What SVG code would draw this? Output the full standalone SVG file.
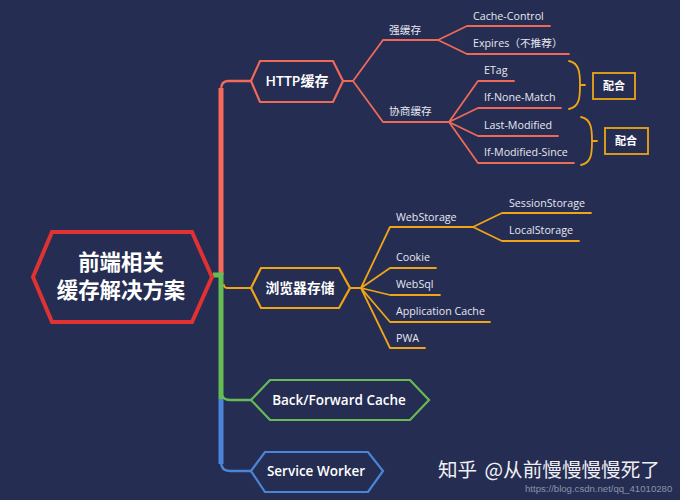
<svg xmlns="http://www.w3.org/2000/svg" width="680" height="500" viewBox="0 0 680 500">
<style>
text{font-family:"Open Sans","Noto Sans CJK SC",sans-serif;fill:#e6e8f0}
.cjk{font-family:"Noto Sans CJK SC","Open Sans",sans-serif}
.leaf{font-size:10.7px}
.b{font-weight:600;fill:#fff}
.k{font-weight:700;fill:#fff}
.m{text-anchor:middle}
.hex{fill:#252d52}
.c{fill:none;stroke-linejoin:round;stroke-linecap:round}
.red{stroke:#ee6a58;stroke-width:1.8}
.org{stroke:#efa515;stroke-width:1.8}
</style>
<rect width="680" height="500" fill="#252d52"/>
<g id="connectors">
<path class="c" d="M221 90Q221 81 228 81H251" stroke="#f56a5a" stroke-width="2.4"/>
<path d="M221 275V88" fill="none" stroke="#f56a5a" stroke-width="5"/>
<path d="M213 275H221V399" fill="none" stroke="#66bb55" stroke-width="5"/>
<path class="c" d="M221 390Q221 400 230 400H251" stroke="#66bb55" stroke-width="2.4"/>
<path d="M221 399V464" fill="none" stroke="#4a86d8" stroke-width="5"/>
<path class="c" d="M221 462Q221 471 230 471H251" stroke="#4a86d8" stroke-width="2.4"/>
<path class="c" d="M224 285Q224 288 228 288H251" stroke="#efa515" stroke-width="1.8"/>
<g class="c red">
<path d="M343 81H353L383 40H438M353 81L383 122H449"/>
<path d="M438 40L467 26H550M438 40L467 54H569"/>
<path d="M449 122L478 81H514M449 122L478 108H561M449 122L478 136H558M449 122L478 163H574"/>
</g>
<g class="c org">
<path d="M350 288H361L390 227H473M361 288L390 268H436M361 288L390 295H440M361 288L390 322H490M361 288L390 348H425"/>
<path d="M473 227L502 213H591M473 227L502 241H579"/>
</g>
<g class="c" stroke="#efa515" stroke-width="1.8">
<path d="M569 61C580 63 580 75 580 85H585M580 85C580 96 580 107 569 109"/>
<path d="M581 117C592 119 592 131 592 141H597M592 141C592 152 592 163 581 165"/>
</g>
</g>
<g id="root">
<path class="hex" d="M33 277L52 232H192L212 277L192 322H52Z" stroke="#e03232" stroke-width="4"/>
<text class="cjk k m" x="121" y="270" font-size="21.4">前端相关</text>
<text class="cjk k m" x="121" y="298" font-size="21.4">缓存解决方案</text>
</g>
<g id="http">
<path class="hex" d="M251 81L260 61H333L343 81L333 102H260Z" stroke="#ee6a58" stroke-width="2.2"/>
<text class="b m" x="297" y="86" font-size="14">HTTP<tspan class="cjk">缓存</tspan></text>
</g>
<g id="browser">
<path class="hex" d="M251 288L261 268H339L350 288L339 308H261Z" stroke="#efa515" stroke-width="2.2"/>
<text class="cjk k m" x="300" y="293" font-size="13.8">浏览器存储</text>
</g>
<g id="bfcache">
<path class="hex" d="M251 400L270 380H410L429 400L410 420H270Z" stroke="#66bb55" stroke-width="2.2"/>
<text class="b m" x="339" y="404.500" font-size="13.500">Back/Forward Cache</text>
</g>
<g id="sw">
<path class="hex" d="M251 471L265 452H368L383 471L368 492H265Z" stroke="#4a86d8" stroke-width="2.2"/>
<text class="b m" x="316" y="476" font-size="13.500">Service Worker</text>
</g>
<g id="http-labels">
<text class="cjk leaf" x="389" y="34">强缓存</text>
<text class="cjk leaf" x="389" y="115">协商缓存</text>
<text class="leaf" x="473" y="20">Cache-Control</text>
<text class="leaf" x="473" y="47">Expires<tspan class="cjk">（不推荐）</tspan></text>
<text class="leaf" x="484" y="74">ETag</text>
<text class="leaf" x="484" y="101">If-None-Match</text>
<text class="leaf" x="484" y="129">Last-Modified</text>
<text class="leaf" x="484" y="156">If-Modified-Since</text>
</g>
<g id="peer1">
<rect x="593" y="73" width="42" height="26" fill="none" stroke="#efa515" stroke-width="1.8"/>
<text class="cjk k m" x="614" y="90" font-size="11">配合</text>
</g>
<g id="peer2">
<rect x="605" y="128" width="43" height="26" fill="none" stroke="#efa515" stroke-width="1.8"/>
<text class="cjk k m" x="626" y="145" font-size="11">配合</text>
</g>
<g id="browser-labels">
<text class="leaf" x="396" y="221">WebStorage</text>
<text class="leaf" x="509" y="207">SessionStorage</text>
<text class="leaf" x="509" y="234">LocalStorage</text>
<text class="leaf" x="396" y="261">Cookie</text>
<text class="leaf" x="396" y="288">WebSql</text>
<text class="leaf" x="396" y="315">Application Cache</text>
<text class="leaf" x="396" y="342">PWA</text>
</g>
<g id="watermark">
<text class="cjk" x="438" y="477" font-size="19.600" style="fill:#f0f0f4">知乎 <tspan dx="3">@从前慢慢慢慢死了</tspan></text>
<text x="525" y="492" font-size="9.600" style="font-family:'Liberation Sans',sans-serif;fill:#8d93ab">https://blog.csdn.net/qq_41010280</text>
</g>
</svg>
